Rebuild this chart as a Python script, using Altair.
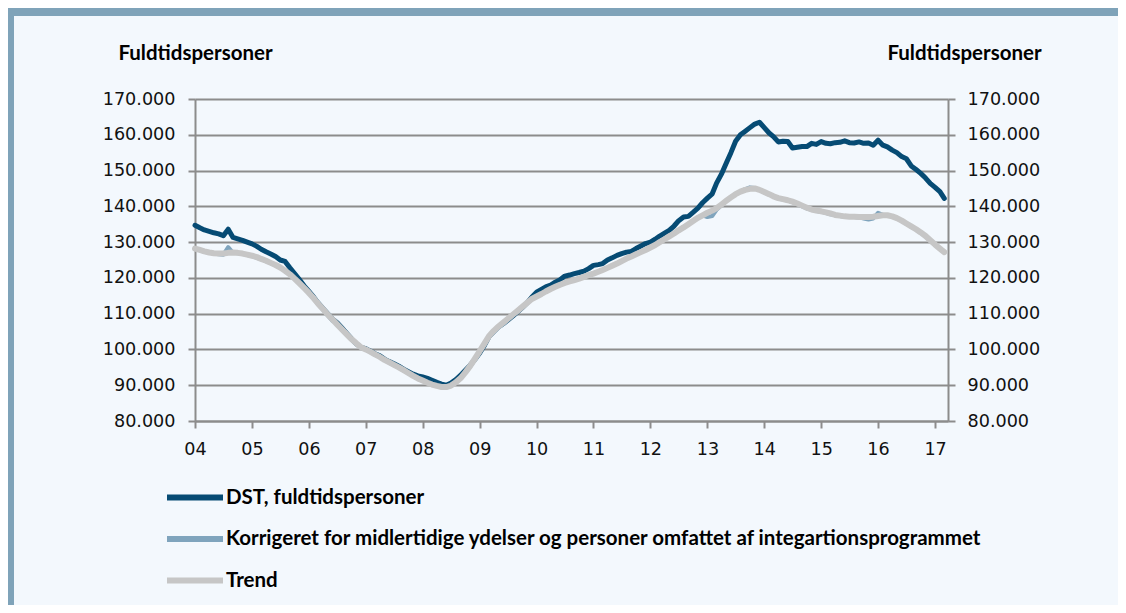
import altair as alt
import pandas as pd

# Monthly values, thousands of full-time persons, Jan 2004 - Mar 2017
dst = [
    134.7, 134.0, 133.4, 133.0, 132.6, 132.3, 131.8, 133.6, 131.3, 130.9, 130.5, 130.0,  # 2004
    129.5, 128.8, 128.0, 127.3, 126.7, 126.0, 125.0, 124.6, 122.8, 121.2, 119.5, 117.8,  # 2005
    116.2, 114.6, 113.0, 111.5, 110.0, 108.5, 107.5, 106.0, 104.5, 103.0, 101.6, 100.6,  # 2006
    100.2, 99.5, 98.8, 98.2, 97.3, 96.6, 96.0, 95.3, 94.5, 93.8, 93.1, 92.6,            # 2007
    92.3, 91.9, 91.4, 90.8, 90.3, 90.0, 90.6, 91.6, 92.8, 94.2, 95.6, 97.2,             # 2008
    99.0, 101.2, 103.5, 105.0, 106.3, 107.2, 108.2, 109.3, 110.5, 111.7, 113.0, 114.6,  # 2009
    116.0, 116.8, 117.5, 118.0, 118.8, 119.5, 120.5, 120.8, 121.2, 121.5, 121.9, 122.6,  # 2010
    123.5, 123.7, 124.0, 125.0, 125.6, 126.3, 126.8, 127.2, 127.4, 128.2, 128.9, 129.6,  # 2011
    130.0, 130.8, 131.7, 132.5, 133.3, 134.5, 136.0, 137.0, 137.2, 138.3, 139.5, 141.0,  # 2012
    142.3, 143.5, 146.5, 149.0, 152.0, 155.0, 158.2, 160.0, 161.0, 162.0, 163.0, 163.5,  # 2013
    162.0, 160.5, 159.5, 158.0, 158.2, 158.1, 156.3, 156.5, 156.7, 156.7, 157.6, 157.3,  # 2014
    158.1, 157.6, 157.5, 157.8, 157.9, 158.3, 157.8, 157.7, 158.0, 157.6, 157.7, 157.1,  # 2015
    158.5, 157.1, 156.6, 155.7, 155.0, 153.9, 153.3, 151.3, 150.3, 149.2, 147.9, 146.4,  # 2016
    145.3, 144.1, 142.2,                                                                # 2017
]

korrigeret = [
    128.3, 127.7, 127.3, 127.0, 126.8, 126.6, 126.5, 128.6, 127.0, 126.9, 126.7, 126.4,
    126.1, 125.6, 125.2, 124.7, 124.1, 123.5, 123.0, 122.0, 120.9, 119.7, 118.4, 117.1,
    115.7, 114.2, 112.6, 111.1, 109.5, 108.0, 107.2, 105.5, 104.0, 102.8, 101.5, 100.6,
    99.9, 99.2, 98.5, 97.8, 97.0, 96.3, 95.6, 94.9, 94.1, 93.3, 92.5, 91.8,
    91.3, 90.7, 90.2, 89.8, 89.5, 89.6, 90.0, 90.9, 92.1, 93.5, 95.2, 97.2,
    99.2, 101.4, 103.4, 104.8, 106.0, 107.1, 108.3, 109.5, 110.7, 111.8, 113.0, 114.2,
    114.9, 115.6, 116.3, 117.0, 117.6, 118.2, 118.7, 119.1, 119.5, 119.9, 120.4, 120.9,
    121.3, 121.8, 122.3, 122.9, 123.5, 124.1, 124.8, 125.5, 126.1, 126.7, 127.3, 127.9,
    128.6, 129.3, 130.1, 130.9, 131.7, 132.5, 133.4, 134.2, 135.1, 136.0, 136.9, 137.5,
    137.0, 137.3, 139.0, 140.3, 141.5, 142.6, 143.5, 144.2, 144.8, 145.3, 145.1, 144.6,
    143.9, 143.3, 142.7, 142.2, 141.9, 141.6, 141.2, 140.6, 140.0, 139.4, 139.0, 138.7,
    138.5, 138.1, 137.8, 137.5, 137.3, 137.1, 137.0, 137.0, 136.9, 136.6, 136.3, 136.6,
    138.2, 137.6, 137.4, 137.2, 136.6, 135.9, 135.1, 134.3, 133.5, 132.6, 131.6, 130.4,
    129.2, 128.1, 127.1,
]

trend = [
    128.2, 127.8, 127.4, 127.1, 126.9, 126.8, 126.8, 127.0, 127.1, 127.0, 126.8, 126.5,
    126.2, 125.8, 125.3, 124.8, 124.2, 123.6, 122.9, 122.0, 121.0, 119.8, 118.5, 117.2,
    115.8, 114.3, 112.8, 111.3, 109.8, 108.4, 107.0, 105.6, 104.2, 102.9, 101.7, 100.6,
    100.0, 99.3, 98.6, 97.9, 97.1, 96.4, 95.7, 95.0, 94.2, 93.4, 92.6, 91.9,
    91.3, 90.7, 90.2, 89.8, 89.5, 89.5, 89.9, 90.8, 92.0, 93.6, 95.4, 97.4,
    99.5, 101.7, 103.7, 105.2, 106.4, 107.5, 108.6, 109.7, 110.8, 111.9, 113.0, 114.1,
    114.8, 115.5, 116.2, 116.9, 117.5, 118.1, 118.6, 119.0, 119.4, 119.8, 120.3, 120.8,
    121.2, 121.7, 122.2, 122.8, 123.4, 124.0, 124.7, 125.4, 126.0, 126.6, 127.2, 127.8,
    128.5, 129.2, 130.0, 130.8, 131.6, 132.4, 133.3, 134.1, 135.0, 135.9, 136.8, 137.5,
    138.2, 138.8, 139.5, 140.5, 141.5, 142.5, 143.4, 144.1, 144.6, 144.9, 145.0, 144.6,
    144.0, 143.4, 142.8, 142.3, 142.0, 141.7, 141.3, 140.8, 140.2, 139.6, 139.1, 138.8,
    138.6, 138.3, 138.0, 137.6, 137.4, 137.2, 137.1, 137.1, 137.0, 137.0, 137.0, 137.1,
    137.3, 137.5, 137.5, 137.2, 136.7, 136.0, 135.2, 134.4, 133.6, 132.7, 131.7, 130.5,
    129.3, 128.2, 127.2,
]

series_names = [
    "DST, fuldtidspersoner",
    "Korrigeret for midlertidige ydelser og personer omfattet af integartionsprogrammet",
    "Trend",
]
series_colors = ["#064B74", "#7FA4BD", "#C6C6C6"]
y_ticks = [80000, 90000, 100000, 110000, 120000, 130000, 140000, 150000, 160000, 170000]
axis_title = "Fuldtidspersoner"

months = pd.date_range("2004-01-01", periods=len(dst), freq="MS")
frames = []
for name, vals in zip(series_names, [dst, korrigeret, trend]):
    frames.append(pd.DataFrame({"dato": months, "serie": name, "vaerdi": [v * 1000 for v in vals]}))
df = pd.concat(frames, ignore_index=True)

FONT_NUM = "DejaVu Sans"
FONT_BOLD = "Lato"
GRID = "#8C8C8C"
NUM_SIZE = 17.6
BOLD_SIZE = 20.5

x_enc = alt.X(
    "dato:T",
    scale=alt.Scale(domain=["2004-01-01", "2017-03-25"]),
    axis=alt.Axis(
        format="%y", tickCount={"interval": "year", "step": 1}, title=None,
        labelFont=FONT_NUM, labelFontSize=NUM_SIZE, labelColor="#111111",
        tickSize=7, tickColor=GRID, tickWidth=2, domainColor=GRID, domainWidth=2,
        labelPadding=12, grid=False, labelFlush=False,
    ),
)
yscale = alt.Scale(domain=[80000, 170000], nice=False)
lab_expr = "replace(format(datum.value, ',d'), ',', '.')"

color_enc = alt.Color(
    "serie:N",
    scale=alt.Scale(domain=series_names, range=series_colors),
    legend=alt.Legend(
        title=None, orient="none", legendX=-31, legendY=388, direction="vertical",
        symbolType="stroke", symbolSize=3136, symbolStrokeWidth=6,
        labelFont=FONT_BOLD, labelFontWeight="bold", labelFontSize=BOLD_SIZE, labelColor="#000000",
        labelLimit=1000, clipHeight=21, rowPadding=20.5, labelOffset=0,
    ),
)

base = alt.Chart(df)

dst_line = base.transform_filter(alt.datum.serie == series_names[0]).mark_line(
    strokeWidth=5, strokeJoin="round", strokeCap="round"
).encode(
    x=x_enc,
    y=alt.Y("vaerdi:Q", scale=yscale, axis=alt.Axis(
        orient="left", values=y_ticks, labelExpr=lab_expr, title=axis_title,
        titleAngle=0, titleX=0, titleY=-40, titleAlign="center", titleBaseline="alphabetic",
        titleFont=FONT_BOLD, titleFontWeight="bold", titleFontSize=BOLD_SIZE, titleColor="#000000",
        labelFont=FONT_NUM, labelFontSize=NUM_SIZE, labelColor="#111111", labelPadding=13,
        tickSize=7, tickColor=GRID, tickWidth=2, domainColor=GRID, domainWidth=2,
        grid=True, gridColor=GRID, gridWidth=2,
    )),
    color=color_enc,
)

korr_line = base.transform_filter(alt.datum.serie == series_names[1]).mark_line(
    strokeWidth=4, strokeJoin="round"
).encode(
    x=x_enc,
    y=alt.Y("vaerdi:Q", scale=yscale, axis=None),
    color=color_enc,
)

trend_line = base.transform_filter(alt.datum.serie == series_names[2]).mark_line(
    strokeWidth=6, strokeJoin="round", strokeCap="round"
).encode(
    x=x_enc,
    y=alt.Y("vaerdi:Q", scale=yscale, axis=alt.Axis(
        orient="right", values=y_ticks, labelExpr=lab_expr, title=axis_title,
        titleAngle=0, titleX=16, titleY=-40, titleAlign="center", titleBaseline="alphabetic",
        titleFont=FONT_BOLD, titleFontWeight="bold", titleFontSize=BOLD_SIZE, titleColor="#000000",
        labelFont=FONT_NUM, labelFontSize=NUM_SIZE, labelColor="#111111", labelPadding=12,
        tickSize=7, tickColor=GRID, tickWidth=2, domainColor=GRID, domainWidth=2,
        grid=False,
    )),
    color=color_enc,
)

frame_top = alt.Chart(pd.DataFrame({"a": [0]})).mark_rect(color="#7FA3B9").encode(
    x=alt.value(-187), x2=alt.value(923), y=alt.value(-91), y2=alt.value(-83)
)
frame_left = alt.Chart(pd.DataFrame({"a": [0]})).mark_rect(color="#7FA3B9").encode(
    x=alt.value(-187), x2=alt.value(-181), y=alt.value(-91), y2=alt.value(506)
)

chart = alt.layer(dst_line, korr_line, trend_line, frame_top, frame_left).resolve_scale(
    y="independent"
).properties(
    width=753, height=322,
    autosize=alt.AutoSizeParams(type="none"),
    padding={"left": 187, "top": 91, "right": 170, "bottom": 184},
    background="#F3F8FD",
).configure_view(strokeWidth=0)

chart.save("out.html", embed_options={"renderer": "svg", "actions": False})
